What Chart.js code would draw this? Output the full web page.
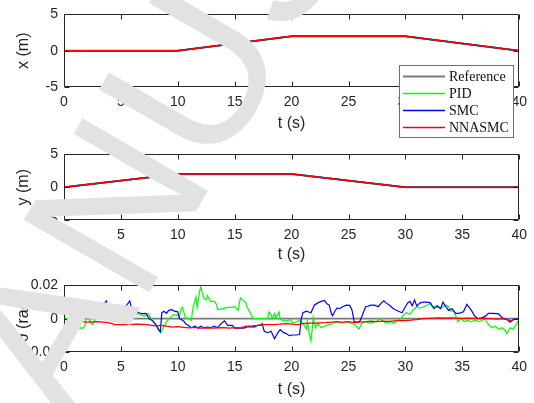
<!DOCTYPE html>
<html>
<head>
<meta charset="utf-8">
<script src="https://cdn.jsdelivr.net/npm/chart.js@4.4.1/dist/chart.umd.min.js"></script>
<style>
  html, body { margin: 0; padding: 0; background: #ffffff; }
  #wrap { position: relative; width: 534px; height: 403px; overflow: hidden; }
  canvas { position: absolute; left: 0; display: block; }
</style>
</head>
<body>
<div id="wrap">
  <canvas id="cx" width="534" height="140" style="top:0px"></canvas>
  <canvas id="cy" width="534" height="131" style="top:140px"></canvas>
  <canvas id="ct" width="534" height="132" style="top:271px"></canvas>
</div>
<script>
// ---- axis ticks ----
const timeTicks = [0, 5, 10, 15, 20, 25, 30, 35, 40];
const posTicks = [-5, 0, 5];
const thetaTicks = [-0.02, 0, 0.02];

// ---- position tracking (s, m) ----
const timeKnots = [0, 10, 20, 30, 40];
const xReference = [0, 0, 2, 2, 0];
const xPID = [0, 0, 2, 2, 0];
const xSMC = [0, 0, 2, 2, 0];
const xNNASMC = [0, 0, 2, 2, 0];
const yReference = [0, 2, 2, 0, 0];
const yPID = [0, 2, 2, 0, 0];
const ySMC = [0, 2, 2, 0, 0];
const yNNASMC = [0, 2, 2, 0, 0];

// ---- attitude angle (s, rad) ----
const thetaRefT = [0, 40];
const thetaRef = [0, 0];

const thetaPIDT = [0, 0.4, 0.6, 0.87, 1.1, 1.3, 1.5, 1.7, 1.85, 2.0, 2.25, 2.5, 2.8, 3.1, 3.4, 3.8, 4.1, 4.5, 4.8,
  5.3, 5.6, 5.9, 6.2, 6.5, 6.8, 7.1, 7.4, 7.7, 8.0, 8.3, 8.5, 8.7, 9.0, 9.3, 9.6, 9.9, 10.15, 10.3, 10.4, 10.6,
  10.7, 10.9, 11.2, 11.3, 11.45, 11.6, 11.7, 11.9, 12.0, 12.2, 12.3, 12.5, 12.6, 12.8, 12.9, 13.1, 13.2, 13.4,
  13.5, 13.8, 14.1, 14.4, 14.7, 15.0, 15.3, 15.5, 15.7, 16.0, 16.1, 16.4, 16.6, 16.7, 17.9, 18.0, 18.2, 18.3,
  18.5, 18.6, 18.9, 19.0, 19.3, 19.6, 19.9, 20.1, 20.4, 20.7, 21.0, 21.3, 21.4, 21.5, 21.7, 21.8, 21.9, 22.1,
  22.3, 22.6, 22.9, 23.3, 23.7, 24.0, 24.3, 24.8, 25.2, 25.6, 25.9, 26.2, 26.5, 26.9, 27.4, 27.8, 28.1, 28.4,
  28.7, 29.0, 29.3, 29.6, 29.9, 30.1, 30.4, 30.7, 31.0, 31.3, 31.6, 31.9, 32.2, 32.4, 32.7, 33.0, 33.3, 33.6,
  33.8, 34.0, 34.3, 34.6, 34.9, 35.2, 35.4, 35.8, 36.1, 36.5, 37.0, 37.3, 37.6, 37.9, 38.2, 38.5, 38.8, 38.9,
  39.2, 39.5, 39.8, 40.0];
const thetaPID = [0, 0, 0.0038, -0.0005, -0.004, -0.0057, -0.0055, -0.0057, -0.004, 0.003, -0.001, -0.0035, 0,
  0.0035, 0.002, 0.001, -0.001, -0.001, 0.0005, 0.0023, 0.0036, 0.0032, 0.0023, 0.0032, 0.0023, 0.0014, 0.0032,
  -0.0004, -0.003, -0.0057, -0.0084, -0.0057, -0.0021, 0.0005, 0.0023, 0.0023, 0.0014, 0.0059, 0.0068, 0.0023,
  0, 0.0005, -0.0012, 0.005, 0.0095, 0.013, 0.0068, 0.0157, 0.019, 0.0148, 0.0121, 0.0113, 0.0139, 0.0113,
  0.0104, 0.0104, 0.0104, 0.0086, 0.0054, 0.0059, 0.0064, 0.0068, 0.0068, 0.0072, 0.005, 0.0125, 0.0113,
  0.0095, 0.0068, 0.0032, 0.0005, 0, 0, 0.0041, 0.0023, -0.0004, 0.0032, 0.0005, 0.0041, -0.0004, -0.0013,
  -0.0013, -0.0004, -0.0025, -0.0018, -0.0009, -0.0027, -0.0063, -0.0018, -0.0072, -0.0134, -0.0072, 0.0009,
  -0.0054, -0.0027, -0.0054, -0.0045, -0.0036, -0.0027, -0.0018, -0.0027, -0.0018, -0.0027, -0.0036, -0.0063,
  -0.0027, -0.0018, -0.0027, -0.0018, 0, -0.0018, -0.0027, -0.0018, -0.0027, -0.0009, 0, 0.0027, 0.0036,
  0.0027, 0.0054, 0.0072, 0.0063, 0.0072, 0.0081, 0.009, 0.0072, 0.0072, 0.0063, 0.0072, 0.0081, 0.0072,
  0.0045, 0.0045, -0.0018, 0, -0.0018, -0.0009, -0.0018, -0.0009, -0.0018, 0, -0.0036, -0.0054, -0.0045,
  -0.0063, -0.0054, -0.0072, -0.009, -0.0054, -0.0063, -0.0027, 0];

const thetaSMCT = [0, 0.2, 0.3, 0.45, 0.8, 1.1, 1.4, 1.7, 2.0, 2.3, 2.6, 2.9, 3.2, 3.5, 3.73, 3.97, 4.2, 4.5, 4.8,
  5.05, 5.3, 5.5, 5.78, 6.0, 6.3, 6.6, 6.9, 7.2, 7.5, 7.8, 8.1, 8.3, 8.46, 8.6, 8.8, 9.0, 9.2, 9.5, 9.7, 10.0,
  10.15, 10.3, 10.5, 10.7, 10.9, 11.2, 11.5, 11.8, 12.0, 12.3, 12.6, 12.9, 13.2, 13.5, 13.8, 14.1, 14.4, 14.8,
  15.0, 15.3, 15.8, 16.1, 16.4, 16.7, 17.0, 17.3, 17.4, 17.6, 17.9, 18.2, 18.5, 18.8, 19.0, 19.3, 19.5, 19.8,
  20.1, 20.4, 20.7, 20.85, 21.0, 21.3, 21.5, 21.7, 22.0, 22.3, 22.6, 22.9, 23.1, 23.3, 23.5, 23.6, 23.8, 24.0,
  24.2, 24.5, 24.8, 25.1, 25.3, 25.5, 25.8, 26.0, 26.2, 26.5, 26.7, 27.0, 27.3, 27.6, 27.9, 28.1, 28.3, 28.6,
  28.9, 29.1, 29.4, 29.7, 30.0, 30.2, 30.4, 30.6, 30.8, 31.0, 31.3, 31.6, 31.9, 32.2, 32.5, 32.8, 33.1, 33.3,
  33.5, 33.8, 34.1, 34.4, 34.7, 35.1, 35.4, 35.6, 35.8, 36.1, 36.4, 36.7, 37.0, 37.3, 37.7, 38.2, 38.5, 38.9,
  39.2, 39.5, 39.8, 40.0];
const thetaSMC = [0, 0.0072, 0.009, 0.005, 0.0045, 0.005, 0.0045, 0.006, 0.0055, 0.0068, 0.006, 0.007, 0.0085,
  0.009, 0.0107, 0.004, 0.005, 0.0068, 0.006, 0.0059, 0.0072, 0.008, 0.0107, 0.004, 0.0045, 0.0036, 0.003,
  0.0032, 0, -0.0013, -0.004, -0.0066, -0.0079, 0.0036, 0.0045, 0.0032, 0.005, 0.0054, 0.0045, 0.0041, 0,
  -0.0005, -0.0013, -0.003, -0.004, -0.0054, -0.0045, -0.0057, -0.0045, -0.0054, -0.005, -0.0054, -0.0045,
  -0.0054, -0.003, -0.0013, -0.004, -0.004, -0.0057, -0.0057, -0.0057, -0.005, -0.0048, -0.005, -0.004, -0.004,
  -0.003, -0.0075, -0.0084, -0.0075, -0.012, -0.0084, -0.0066, -0.0084, -0.0088, -0.0102, -0.0098, -0.0098,
  -0.0095, 0, 0.0036, 0.0045, 0.004, 0.0036, 0.0081, 0.0095, 0.0104, 0.011, 0.009, 0.0082, 0.003, 0.0018,
  0.0045, 0.0065, 0.006, 0.0072, 0.0081, 0.008, 0.0054, -0.0018, -0.002, -0.0015, 0.0018, 0.0072, 0.0075,
  0.0081, 0.0081, 0.0072, 0.0095, 0.0107, 0.0095, 0.0081, 0.0063, 0.0054, 0.0045, 0.0036, 0.0072, 0.0095,
  0.0104, 0.0077, 0.0113, 0.0077, 0.0095, 0.01, 0.01, 0.0095, 0.006, 0.0077, 0.006, 0.01, 0.0077, 0.005, 0.006,
  0.0032, 0.0032, 0.0041, 0.0086, 0.0068, 0.005, 0.0014, 0, 0.0005, 0.0014, 0.0032, 0.0032, 0.0029, 0.0005,
  -0.0004, -0.0021, -0.0004, 0, 0];

const thetaNNASMCT = [0, 0.3, 1.0, 2.0, 3.0, 4.0, 4.5, 5.5, 6.5, 7.3, 8.0, 8.5, 9.0, 9.5, 10.0, 10.5, 11.0, 11.5,
  12.0, 12.5, 13.0, 13.5, 14.0, 14.5, 15.0, 15.5, 16.0, 16.5, 17.0, 17.5, 18.0, 18.5, 19.0, 19.5, 20.0, 20.5,
  21.0, 21.5, 22.0, 22.5, 23.0, 23.5, 24.0, 24.5, 25.0, 25.5, 26.0, 26.5, 27.0, 27.5, 28.0, 28.5, 29.0, 29.5,
  30.0, 30.5, 31.0, 31.5, 32.0, 32.5, 33.0, 33.5, 34.0, 34.5, 35.0, 35.5, 36.0, 36.5, 37.0, 37.5, 38.0, 38.5,
  39.0, 39.3, 39.6, 40.0];
const thetaNNASMC = [0, -0.001, -0.0013, -0.002, -0.0018, -0.0025, -0.0036, -0.0036, -0.0032, -0.0036, -0.0043,
  -0.004, -0.0045, -0.005, -0.0048, -0.0052, -0.0055, -0.0052, -0.0057, -0.0055, -0.0057, -0.0055, -0.0054,
  -0.0057, -0.0054, -0.0055, -0.0045, -0.0043, -0.004, -0.0036, -0.0036, -0.0036, -0.0032, -0.003, -0.0032,
  -0.0036, -0.003, -0.0027, -0.0027, -0.0025, -0.0023, -0.002, -0.0018, -0.0022, -0.0018, -0.0023, -0.002,
  -0.0018, -0.0015, -0.0018, -0.0015, -0.0016, -0.0013, -0.0012, -0.0012, -0.0009, -0.0005, 0, 0.0002, 0.0004,
  0.0005, 0.0004, 0.0005, 0.0004, 0.0002, 0.0003, 0.0002, 0, 0.0002, 0, -0.0002, 0, -0.0007, -0.0012, -0.0005, 0];

// ---- legend entries ----
const seriesNames = ['Reference', 'PID', 'SMC', 'NNASMC'];
const seriesColors = ['#7a7a7a', '#00ff00', '#0000ff', '#ff0000'];

Chart.defaults.font.family = '"Liberation Sans", Arial, Helvetica, sans-serif';
Chart.defaults.color = '#262626';

function pairs(ts, vs) { return ts.map((t, i) => ({ x: t, y: vs[i] })); }

function lineSet(idx, ts, vs, width) {
  return {
    label: seriesNames[idx],
    data: pairs(ts, vs),
    borderColor: seriesColors[idx],
    borderWidth: idx === 0 ? width + 0.6 : width,
    pointRadius: 0,
    fill: false,
    tension: 0,
    order: 3 - idx
  };
}

// Light grey stamp lettering across the figure
function drawWatermark(ctx, top) {
  ctx.save();
  ctx.translate(0, -top);
  ctx.translate(-17, 580);
  ctx.rotate(-60 * Math.PI / 180);
  ctx.fillStyle = '#e2e2e2';
  ctx.font = '210px "Liberation Sans", Arial, sans-serif';
  ctx.textBaseline = 'alphabetic';
  ctx.textAlign = 'left';
  ctx.fillText('MANUSCRIPT', 0, 0);
  ctx.restore();
}

function drawLegend(ctx) {
  const L = 399.5, T = 65.5, W = 114, H = 72;
  ctx.save();
  ctx.fillStyle = '#ffffff';
  ctx.fillRect(L, T, W, H);
  ctx.strokeStyle = '#6e6e6e';
  ctx.lineWidth = 1;
  ctx.strokeRect(L, T, W, H);
  ctx.font = '14px "Liberation Serif", "Times New Roman", serif';
  ctx.textBaseline = 'middle';
  ctx.textAlign = 'left';
  const rows = [76.5, 93.5, 110.5, 127.5];
  seriesNames.forEach((name, i) => {
    ctx.strokeStyle = seriesColors[i];
    ctx.lineWidth = i === 0 ? 2 : 1.5;
    ctx.beginPath();
    ctx.moveTo(403, rows[i]);
    ctx.lineTo(445, rows[i]);
    ctx.stroke();
    ctx.fillStyle = '#111111';
    ctx.fillText(name, 449, rows[i] + 0.5);
  });
  ctx.restore();
}

// Box around the axes with inward tick marks on all four sides
const framePlugin = {
  id: 'frame',
  afterDraw(chart, args, opts) {
    const ctx = chart.ctx;
    const a = chart.chartArea;
    const xs = chart.scales.x, ys = chart.scales.y;
    const L = Math.round(a.left) + 0.5, R = Math.round(a.right) - 0.5;
    const T = Math.round(a.top) + 0.5, B = Math.round(a.bottom) - 0.5;
    ctx.save();
    ctx.strokeStyle = '#262626';
    ctx.lineWidth = 1;
    ctx.beginPath();
    ctx.rect(L, T, R - L, B - T);
    xs.ticks.forEach(tk => {
      const p = Math.round(xs.getPixelForValue(tk.value)) + 0.5;
      ctx.moveTo(p, B); ctx.lineTo(p, B - 5);
      ctx.moveTo(p, T); ctx.lineTo(p, T + 5);
    });
    ys.ticks.forEach(tk => {
      const p = Math.round(ys.getPixelForValue(tk.value)) + 0.5;
      ctx.moveTo(L, p); ctx.lineTo(L + 5, p);
      ctx.moveTo(R, p); ctx.lineTo(R - 5, p);
    });
    ctx.stroke();
    ctx.restore();
    if (opts.legend) drawLegend(ctx);
    drawWatermark(ctx, opts.top);
  }
};

function makeChart(id, datasets, cfg) {
  return new Chart(document.getElementById(id), {
    type: 'line',
    data: { datasets },
    plugins: [framePlugin],
    options: {
      responsive: false,
      devicePixelRatio: 1,
      animation: false,
      events: [],
      layout: { padding: { top: cfg.padTop, left: 0, right: 13, bottom: 0 } },
      plugins: {
        legend: { display: false },
        tooltip: { enabled: false },
        frame: { legend: !!cfg.legend, top: cfg.top }
      },
      scales: {
        x: {
          type: 'linear', min: 0, max: 40,
          afterBuildTicks: s => { s.ticks = timeTicks.map(v => ({ value: v })); },
          afterFit: s => { s.height = cfg.xHeight; },
          grid: { display: false, drawTicks: false },
          border: { display: false },
          ticks: { font: { size: 14 }, padding: 7, maxRotation: 0, color: '#262626' },
          title: { display: true, text: 't (s)', font: { size: 16 }, padding: { top: 0, bottom: cfg.titlePad }, color: '#262626' }
        },
        y: {
          type: 'linear', min: cfg.yMin, max: cfg.yMax,
          afterBuildTicks: s => { s.ticks = cfg.yTicks.map(v => ({ value: v })); },
          afterFit: s => { s.width = 64; },
          grid: { display: false, drawTicks: false },
          border: { display: false },
          ticks: { font: { size: 14 }, padding: 6, color: '#262626', callback: v => String(v) },
          title: { display: true, text: cfg.yTitle, font: { size: 16 }, padding: { top: 14, bottom: 0 }, color: '#262626' }
        }
      }
    }
  });
}

makeChart('cx', [
  lineSet(0, timeKnots, xReference, 1.5),
  lineSet(1, timeKnots, xPID, 1.5),
  lineSet(2, timeKnots, xSMC, 1.5),
  lineSet(3, timeKnots, xNNASMC, 1.5)
], { top: 0, padTop: 14, xHeight: 53, titlePad: 7, yMin: -5, yMax: 5, yTicks: posTicks, yTitle: 'x (m)', legend: true });

makeChart('cy', [
  lineSet(0, timeKnots, yReference, 1.5),
  lineSet(1, timeKnots, yPID, 1.5),
  lineSet(2, timeKnots, ySMC, 1.5),
  lineSet(3, timeKnots, yNNASMC, 1.5)
], { top: 140, padTop: 6, xHeight: 51, titlePad: 7, yMin: -5, yMax: 5, yTicks: posTicks, yTitle: 'y (m)' });

makeChart('ct', [
  lineSet(0, thetaRefT, thetaRef, 1.2),
  lineSet(1, thetaPIDT, thetaPID, 1.2),
  lineSet(2, thetaSMCT, thetaSMC, 1.2),
  lineSet(3, thetaNNASMCT, thetaNNASMC, 1.2)
], { top: 271, padTop: 7, xHeight: 51, titlePad: 4, yMin: -0.02, yMax: 0.02, yTicks: thetaTicks, yTitle: 'θ (rad)' });
</script>
</body>
</html>
